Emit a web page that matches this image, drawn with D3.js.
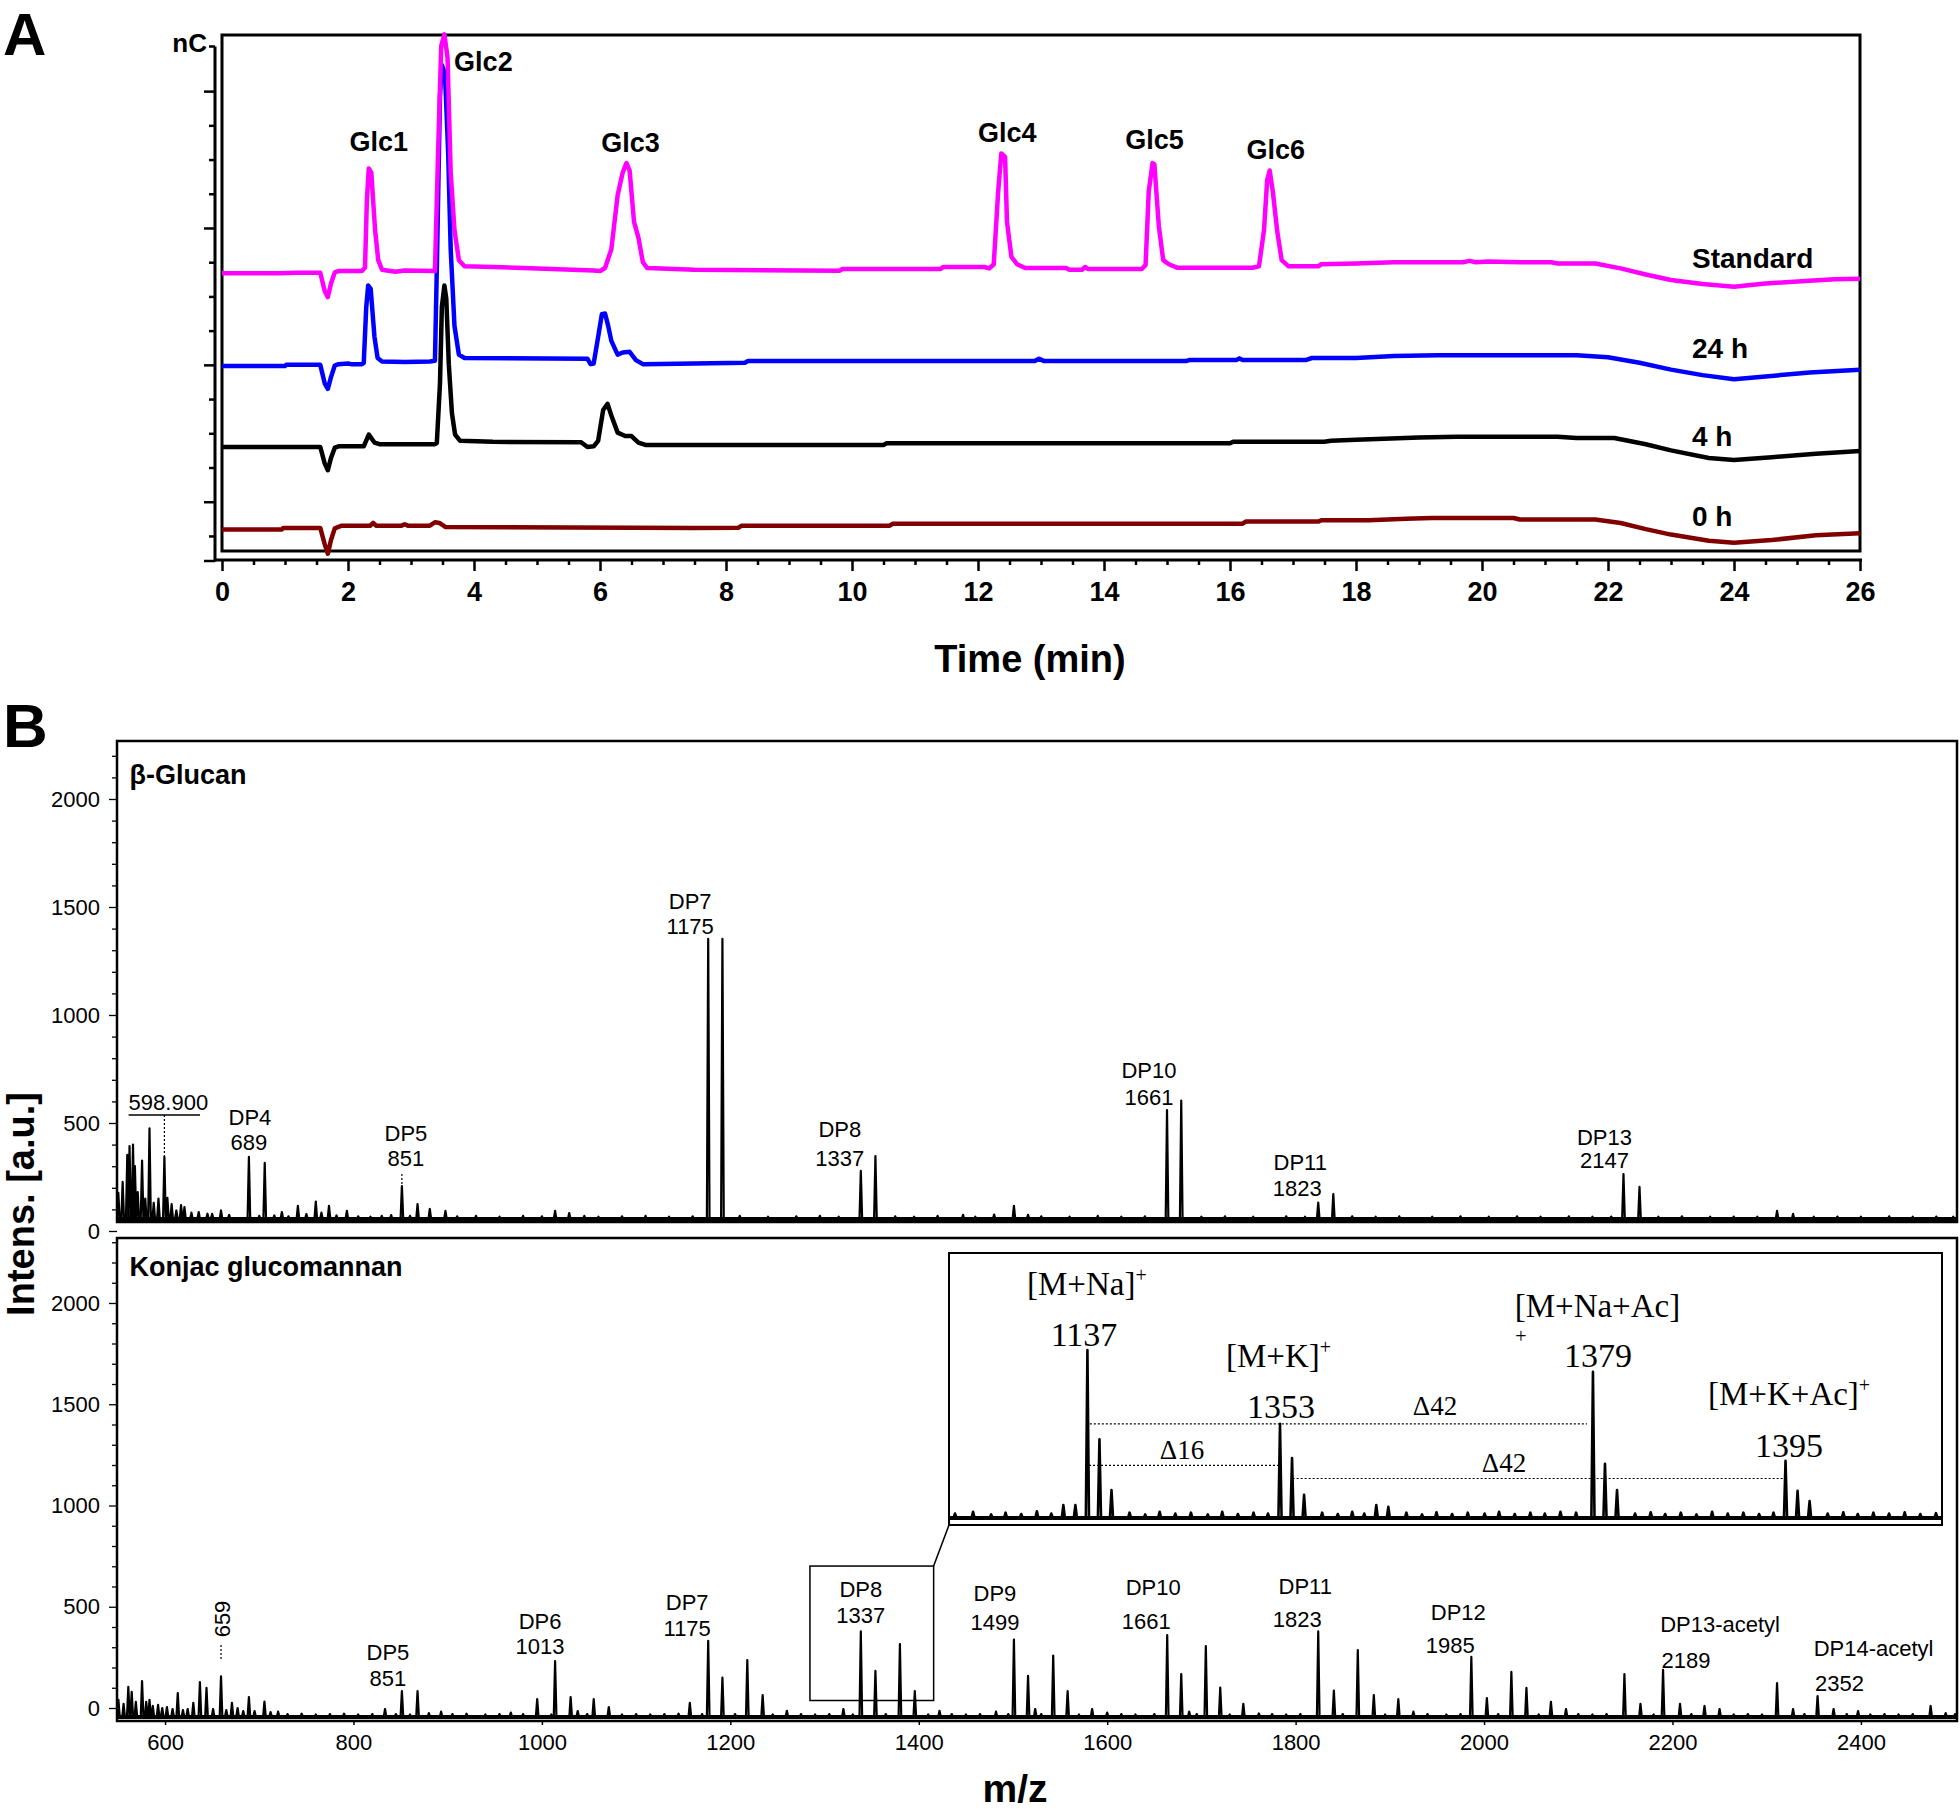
<!DOCTYPE html>
<html><head><meta charset="utf-8">
<script src="https://cdn.jsdelivr.net/npm/d3@7"></script>
<style>body{margin:0;background:#fff}svg{display:block}</style>
</head><body>
<svg id="fig" width="1960" height="1809"></svg>
<script>
// ===================== DATA : Panel A (HPAEC-PAD) =====================
const timeTicks = [0,2,4,6,8,10,12,14,16,18,20,22,24,26];
const nCTicks = [-5,0,5,10,15,20,25,30,35,40,45,50,55,60];
const seriesNames = ["Standard","24 h","4 h","0 h"];
const glcNames = ["Glc1","Glc2","Glc3","Glc4","Glc5","Glc6"];
const glcTimes = [2.33,3.53,6.42,12.37,14.77,16.63];

const standardTrace = [[0,33.4],[0.9,33.4],[1.2,33.45],[1.56,33.45],[1.63,30.8],[1.68,29.9],[1.73,31.9],[1.79,33.5],[1.85,33.7],[2.22,33.7],[2.27,34.2],[2.30,44.2],[2.33,48.7],[2.37,48.1],[2.43,39.7],[2.48,35.3],[2.54,33.9],[2.75,33.6],[2.9,33.8],[3.38,33.7],[3.43,51],[3.48,66.6],[3.53,68.3],[3.58,64.9],[3.63,48.1],[3.69,39.7],[3.76,35.3],[3.85,34.4],[4.3,34.3],[4.9,34.1],[5.9,33.8],[6.0,33.7],[6.08,34.15],[6.18,36.9],[6.28,44.8],[6.36,48.1],[6.42,49.5],[6.47,48.4],[6.54,40.9],[6.61,38.6],[6.68,35.0],[6.75,34.15],[7.5,33.9],[9.8,33.75],[9.85,34.0],[11.4,34.0],[11.45,34.3],[12.1,34.3],[12.18,34.1],[12.25,34.7],[12.32,45.3],[12.37,50.9],[12.43,50.4],[12.46,40.9],[12.53,35.8],[12.62,34.7],[12.75,34.15],[13.4,34.15],[13.45,33.9],[13.65,33.9],[13.7,34.3],[13.75,34.0],[14.6,34.0],[14.66,34.6],[14.71,45.3],[14.77,49.5],[14.80,49.3],[14.87,40.3],[14.94,35.3],[15.03,34.7],[15.16,34.2],[16.36,34.2],[16.46,34.4],[16.54,39.7],[16.59,47.0],[16.63,48.4],[16.68,45.3],[16.75,39.5],[16.82,35.3],[16.93,34.4],[17.4,34.4],[17.45,34.7],[18.0,34.8],[18.6,35.0],[19.7,35.0],[19.8,35.2],[19.9,35.0],[20.1,35.1],[20.6,35.0],[21.1,35.0],[21.2,34.8],[21.8,34.8],[22.2,34.1],[22.6,33.2],[23.0,32.4],[23.5,31.8],[24.0,31.4],[24.5,31.9],[25.2,32.3],[25.6,32.5],[26.0,32.6]];

const h24Trace = [[0,19.85],[1.0,19.85],[1.02,20.0],[1.56,20.0],[1.63,17.3],[1.68,16.5],[1.73,18.2],[1.79,19.9],[1.85,20.1],[2.0,20.2],[2.05,20.1],[2.22,20.1],[2.25,20.3],[2.29,28.5],[2.32,31.6],[2.36,31.1],[2.42,24.1],[2.47,21.0],[2.54,20.5],[2.9,20.4],[3.3,20.5],[3.38,20.6],[3.41,34.2],[3.46,59.3],[3.49,63.8],[3.54,62.5],[3.59,51],[3.63,36.9],[3.69,25.7],[3.76,21.5],[3.85,21.0],[5.8,20.9],[5.85,20.1],[5.90,20.2],[5.97,24.05],[6.03,27.4],[6.08,27.5],[6.13,25.7],[6.18,23.5],[6.28,21.5],[6.36,21.8],[6.47,21.9],[6.57,20.7],[6.68,20.1],[7.5,20.2],[8.3,20.3],[8.35,20.55],[12.9,20.55],[12.97,20.9],[13.05,20.55],[15.3,20.55],[15.35,20.7],[16.1,20.7],[16.15,20.95],[16.2,20.7],[17.2,20.7],[17.3,21.0],[18.0,21.0],[18.6,21.3],[19.3,21.4],[21.5,21.4],[22.0,21.1],[22.5,20.3],[23.0,19.3],[23.5,18.5],[24.0,17.9],[24.5,18.3],[25.2,18.9],[26.0,19.3]];

const h4Trace = [[0,8.0],[1.56,8.0],[1.63,5.6],[1.68,4.6],[1.73,6.4],[1.79,7.9],[1.85,8.1],[2.25,8.1],[2.33,9.8],[2.42,8.65],[2.5,8.4],[3.38,8.4],[3.41,8.6],[3.46,17.3],[3.49,28.5],[3.53,31.6],[3.56,29.7],[3.60,20.1],[3.65,12.9],[3.70,9.8],[3.78,8.9],[4.3,8.75],[5.7,8.7],[5.8,8.0],[5.9,8.1],[5.97,8.9],[6.05,13.4],[6.12,14.3],[6.18,12.6],[6.28,10.1],[6.40,9.6],[6.50,9.6],[6.61,8.65],[6.72,8.3],[10.5,8.3],[10.55,8.55],[16.0,8.55],[16.05,8.77],[17.5,8.77],[17.6,8.9],[18.0,9.05],[19.0,9.4],[19.6,9.5],[21.2,9.5],[21.5,9.3],[22.1,9.3],[22.6,8.4],[23.0,7.5],[23.6,6.4],[24.0,6.1],[24.6,6.5],[25.3,7.0],[26.0,7.4]];

const h0Trace = [[0,-4.05],[0.95,-4.05],[0.97,-3.85],[1.3,-3.83],[1.56,-3.83],[1.63,-6.2],[1.68,-7.6],[1.73,-5.6],[1.79,-3.9],[1.9,-3.5],[2.35,-3.5],[2.4,-3.1],[2.45,-3.5],[2.85,-3.5],[2.9,-3.3],[2.95,-3.5],[3.3,-3.5],[3.38,-3.0],[3.45,-3.1],[3.55,-3.7],[7.5,-3.83],[8.2,-3.8],[8.25,-3.5],[10.6,-3.5],[10.65,-3.2],[16.2,-3.2],[16.25,-2.9],[17.4,-2.9],[17.45,-2.7],[18.2,-2.7],[18.8,-2.5],[19.2,-2.37],[20.5,-2.37],[20.6,-2.6],[21.8,-2.6],[22.2,-3.1],[22.6,-4.0],[23.0,-4.8],[23.6,-5.7],[24.0,-6.0],[24.6,-5.6],[25.3,-4.9],[26.0,-4.6]];

// ===================== DATA : Panel B (MALDI-TOF) =====================
const mzTicks = [600,800,1000,1200,1400,1600,1800,2000,2200,2400];
const intensTicks = [0,500,1000,1500,2000];
const panelNames = ["β-Glucan","Konjac glucomannan"];

const glucanBaseline = 55;
const glucanPeaks = [[550.4,177],[555,227],[559.9,352],[562.3,393],[566,400],[568,300],[571,180],[575.6,326],[579,150],[583.5,475],[588,130],[593,150],[599.3,343],[602.5,153],[607,125],[612,95],[617,120],[620.6,111],[628,85],[635.7,88],[645,80],[650,79],[659.4,95],[668,75],[689,343],[705.8,315],[724,88],[741,116],[760,136],[774,116],[793,93],[851.4,208],[868,125],[881,102],[897.6,93],[1014,93],[1029,83],[1176.5,1352],[1191.6,1352],[1338.5,278],[1354,347],[1447,75],[1480,76],[1501,116],[1516,75],[1663.5,560],[1678.6,604],[1824,131],[1840,171],[2148,264],[2165,204],[2311,93],[2328,79]];
const glucanNoise = [[700,70],[716,72],[731,68],[750,78],[766,85],[782,72],[805,68],[818,66],[830,70],[840,74],[860,70],[910,68],[930,70],[955,66],[980,70],[1000,68],[1045,70],[1060,66],[1085,68],[1110,70],[1135,66],[1160,68],[1210,70],[1240,66],[1270,68],[1295,70],[1315,66],[1375,68],[1395,66],[1420,70],[1460,66],[1530,68],[1560,66],[1590,70],[1615,66],[1640,68],[1700,66],[1725,68],[1755,66],[1790,68],[1810,66],[1860,68],[1885,66],[1910,68],[1945,66],[1975,68],[2005,66],[2035,68],[2060,66],[2090,68],[2115,66],[2135,67],[2185,66],[2210,68],[2240,66],[2265,67],[2290,66],[2350,66],[2375,67],[2400,66],[2430,68],[2455,66],[2480,67],[2498,66]];

const konjacBaseline = -44;
const konjacPeaks = [[550.5,40],[556,20],[561,104],[564.6,80],[569,30],[575.6,133],[580,30],[583.5,40],[587,10],[592.6,15],[597,0],[602,5],[608,-5],[613.5,74],[619,-10],[624,-5],[630,25],[637,128],[644,99],[651,-5],[659.4,156],[665,-10],[671,25],[677,0],[683,-15],[689,54],[695,-15],[705.5,32],[712,-20],[720,-18],[833.5,-5],[851.4,84],[868,84],[880,-25],[893,-18],[967,-23],[995,44],[1014,232],[1030.5,54],[1038,-15],[1055,44],[1071,5],[1157,25],[1176.5,332],[1191.6,150],[1218,237],[1234.3,64],[1260,-14],[1320,-5],[1338.5,378],[1354,183],[1380,316],[1395.8,84],[1422,-14],[1482,-18],[1501,338],[1516,159],[1523.6,-5],[1542.7,259],[1558,84],[1584,-5],[1600,-23],[1663.7,360],[1678.6,168],[1687,-18],[1704.7,306],[1720,101],[1744.5,20],[1761,-27],[1824,378],[1840.6,86],[1866,286],[1883,64],[1909,44],[1925,-18],[1986.5,252],[2003,49],[2029,178],[2045,99],[2071,30],[2087,-5],[2149,168],[2166,20],[2190,188],[2208,20],[2234,10],[2250,-5],[2311,123],[2328,-5],[2354,59],[2371,-5],[2397,-15],[2474,10],[2490,-25]];
const konjacNoise = [[730,-30],[745,-28],[760,-32],[775,-30],[790,-28],[805,-32],[820,-30],[845,-30],[860,-32],[905,-30],[920,-28],[940,-32],[955,-30],[980,-30],[1010,-32],[1048,-30],[1085,-32],[1100,-30],[1115,-32],[1130,-30],[1145,-28],[1170,-30],[1205,-30],[1245,-32],[1275,-30],[1290,-32],[1305,-30],[1330,-32],[1365,-30],[1410,-32],[1435,-30],[1450,-32],[1465,-30],[1495,-30],[1530,-30],[1570,-32],[1615,-30],[1630,-32],[1650,-30],[1695,-30],[1730,-32],[1775,-30],[1790,-32],[1805,-30],[1850,-30],[1895,-32],[1940,-30],[1960,-32],[1975,-30],[2015,-30],[2058,-32],[2100,-30],[2115,-32],[2130,-30],[2180,-32],[2220,-30],[2265,-32],[2280,-30],[2295,-32],[2340,-30],[2385,-30],[2410,-32],[2425,-30],[2440,-32],[2455,-30],[2500,-30]];

// zoomed inset of the DP8 cluster
const insetDomain = [1325.5,1408];
const insetPeaks = [[1335,29],[1336,29],[1337,378],[1338,177],[1339,63],[1353,212],[1354,135],[1355,52],[1361,29],[1362,25],[1379,329],[1380,122],[1381,63],[1395,129],[1396,61],[1397,38]];
const insetNoise = [[1326,10],[1327.5,14],[1329,8],[1330.2,12],[1331.5,9],[1332.8,15],[1334,10],[1340.5,12],[1341.8,8],[1343,14],[1344.3,10],[1345.6,12],[1347,8],[1348.2,14],[1349.5,9],[1350.8,12],[1352,10],[1356.5,12],[1357.8,9],[1359,14],[1360,10],[1363.5,12],[1364.8,8],[1366,13],[1367.3,9],[1368.6,12],[1370,10],[1371.2,14],[1372.5,9],[1373.8,12],[1375,10],[1376.3,14],[1377.6,12],[1382.5,10],[1383.8,13],[1385,9],[1386.3,12],[1387.6,8],[1388.9,14],[1390.2,10],[1391.5,12],[1392.8,9],[1394,12],[1398.5,10],[1399.8,13],[1401,9],[1402.3,12],[1403.6,10],[1404.9,13],[1406.2,9],[1407.5,11]];
const insetDeltas = [["Δ42",1337.2,1378.5,212],["Δ16",1336.8,1352.9,118.5],["Δ42",1354.05,1394.8,89]];
const dp8Window = [1284.5,1415.8,37,701];   // m/z from, m/z to, intensity from, to

const glucanLabels = [["DP4","689",689],["DP5","851",851.4],["DP7","1175",1176.5],["DP8","1337",1338.5],["DP10","1661",1663.5],["DP11","1823",1824],["DP13","2147",2148]];
const konjacLabels = [["DP5","851",851.4],["DP6","1013",1014],["DP7","1175",1176.5],["DP8","1337",1338.5],["DP9","1499",1501],["DP10","1661",1663.7],["DP11","1823",1824],["DP12","1985",1986.5],["DP13-acetyl","2189",2190],["DP14-acetyl","2352",2354]];

// ===================== LAYOUT =====================
const F = "'Liberation Sans', Arial, Helvetica, sans-serif";
const FS = "'Liberation Serif', 'Times New Roman', serif";
const seriesColors = ["#ff00ff","#0000ff","#000000","#800000"];
const seriesLabelY = [268,358,446,526];
const glcLabelLayout = [[10,151],[39,71],[4,152],[6,141.5],[2,148.5],[6,159]];
// [dx line1, baseline line1, dx line2, baseline line2]
const glucanLabelLayout = [[1,1125,0,1150],[4,1141,4,1166],[-18,909,-18,934],[-21,1137,-21,1166],[-18,1078,-18,1105],[-18,1169.5,-21,1196],[-19,1144.5,-19,1168]];
const konjacLabelLayout = [[-14,1660,-14,1686],[-15,1628.5,-15,1654],[-21,1610,-21,1636],[0,1597,0,1623],[-19,1601,-19,1630],[-14,1595,-21,1628.5],[-13,1593.5,-21,1627],[-13,1620,-21,1652.5],[57,1632,23,1668],[56,1656,22,1691]];

const svg = d3.select('#fig');
svg.append('rect').attr('width',1960).attr('height',1809).attr('fill','#fff');

// ---------------- Panel A ----------------
const xA = d3.scaleLinear().domain([0,26]).range([222,1860]);
const yA = d3.scaleLinear().domain([-7.2,68.2]).range([551,35]);
const gA = svg.append('g');

svg.append('text').attr('x',3).attr('y',55).text('A')
  .attr('font-family',F).attr('font-weight','bold').attr('font-size',60);

gA.append('rect').attr('x',xA(0)).attr('y',yA(68.2)).attr('width',xA(26)-xA(0)).attr('height',yA(-7.2)-yA(68.2))
  .attr('fill','none').attr('stroke','#000').attr('stroke-width',3);

// x axis (offset below the frame)
const gxA = gA.append('g').attr('transform','translate(0,560)')
  .call(d3.axisBottom(xA).tickValues(timeTicks).tickSize(11).tickSizeOuter(0).tickPadding(11).tickFormat(d3.format('d')));
gxA.select('.domain').remove();
gxA.selectAll('.tick line').attr('stroke-width',2.5);
gxA.selectAll('.tick text').attr('font-family',F).attr('font-size',27).attr('font-weight','bold');
const minorTimes = d3.range(0,26.01,0.5).filter(t => t % 2 !== 0);
const gxAm = gA.append('g').attr('transform','translate(0,560)')
  .call(d3.axisBottom(xA).tickValues(minorTimes).tickSize(5).tickFormat(''));
gxAm.select('.domain').remove();
gxAm.selectAll('.tick line').attr('stroke-width',2.5);
gA.append('line').attr('x1',215).attr('x2',1862).attr('y1',560).attr('y2',560).attr('stroke','#000').attr('stroke-width',3);

// y axis (offset left of the frame)
const gyA = gA.append('g').attr('transform','translate(215,0)')
  .call(d3.axisLeft(yA).tickValues(nCTicks).tickSize(6).tickFormat(''));
gyA.select('.domain').remove();
gyA.selectAll('.tick line').attr('x2', d => (d % 20 === 0) ? -11 : -6).attr('stroke-width',2.5);
gyA.append('line').attr('x1',0).attr('x2',0).attr('y1',46.5).attr('y2',561.5).attr('stroke','#000').attr('stroke-width',3);
gyA.append('line').attr('x1',-6).attr('x2',0).attr('y1',46.5).attr('y2',46.5).attr('stroke','#000').attr('stroke-width',2.5);
gyA.append('line').attr('x1',-11).attr('x2',0).attr('y1',561).attr('y2',561).attr('stroke','#000').attr('stroke-width',2.5);
gA.append('text').attr('x',207).attr('y',52).attr('text-anchor','end').text('nC')
  .attr('font-family',F).attr('font-weight','bold').attr('font-size',26);

// traces
const lineA = d3.line().x(d => xA(d[0])).y(d => yA(d[1]));
const traces = [standardTrace,h24Trace,h4Trace,h0Trace];
[3,1,2,0].forEach(i => {
  gA.append('path').attr('d',lineA(traces[i])).attr('fill','none')
    .attr('stroke',seriesColors[i]).attr('stroke-width',4.5).attr('stroke-linejoin','round');
});
seriesNames.forEach((n,i) => {
  gA.append('text').attr('x',1692).attr('y',seriesLabelY[i]).text(n)
    .attr('font-family',F).attr('font-weight','bold').attr('font-size',28);
});
glcNames.forEach((n,i) => {
  gA.append('text').attr('x',xA(glcTimes[i]) + glcLabelLayout[i][0]).attr('y',glcLabelLayout[i][1])
    .attr('text-anchor','middle').text(n)
    .attr('font-family',F).attr('font-weight','bold').attr('font-size',27);
});
gA.append('text').attr('x',1030).attr('y',672).attr('text-anchor','middle').text('Time (min)')
  .attr('font-family',F).attr('font-weight','bold').attr('font-size',38);

// ---------------- Panel B ----------------
svg.append('text').attr('x',3).attr('y',747).text('B')
  .attr('font-family',F).attr('font-weight','bold').attr('font-size',62);

const xB = d3.scaleLinear().domain([549,2502]).range([117,1957]);
const yU = d3.scaleLinear().domain([0,2000]).range([1231,799]);
const yL = d3.scaleLinear().domain([0,2000]).range([1708,1303]);
const gB = svg.append('g');

function spectrum(peaks, noise, base, hw, dom) {
  const all = peaks.concat(noise).sort((a,b) => a[0]-b[0]);
  const pts = [[dom[0],base]];
  all.forEach(([m,v]) => { pts.push([m-hw,base],[m,v],[m+hw,base]); });
  pts.push([dom[1],base]);
  return pts;
}

function yAxisB(scale, maxTick) {
  const vals = d3.range(0, maxTick+1, 100);
  const g = gB.append('g').attr('transform','translate(117,0)')
    .call(d3.axisLeft(scale).tickValues(vals).tickSize(6).tickPadding(11)
      .tickFormat(d => intensTicks.includes(d) ? d : ''));
  g.select('.domain').remove();
  g.selectAll('.tick line').attr('x2', d => intensTicks.includes(d) ? -8 : -5).attr('stroke-width',1.3);
  g.selectAll('.tick text').attr('font-family',F).attr('font-size',22);
}

function drawSpectrum(line, peaks, noise, base, hw, dom, width, baseWidth) {
  gB.append('path').attr('d',line([[dom[0],base],[dom[1],base]]))
    .attr('fill','none').attr('stroke','#000').attr('stroke-width',baseWidth);
  gB.append('path').attr('d',line(spectrum(peaks,noise,base,hw,dom)))
    .attr('fill','none').attr('stroke','#000').attr('stroke-width',width).attr('stroke-linejoin','round');
}

// upper frame
gB.append('rect').attr('x',117).attr('y',741).attr('width',1840).attr('height',481)
  .attr('fill','none').attr('stroke','#000').attr('stroke-width',2.5);
yAxisB(yU, 2200);
const lineU = d3.line().x(d => xB(d[0])).y(d => yU(d[1]));
drawSpectrum(lineU, glucanPeaks, glucanNoise, glucanBaseline, 1.4, xB.domain(), 2.2, 4);
gB.append('text').attr('x',129.5).attr('y',784).text(panelNames[0])
  .attr('font-family',F).attr('font-weight','bold').attr('font-size',27);

// lower frame
gB.append('rect').attr('x',117).attr('y',1238).attr('width',1840).attr('height',483)
  .attr('fill','none').attr('stroke','#000').attr('stroke-width',2.5);
yAxisB(yL, 2300);
const gxB = gB.append('g').attr('transform','translate(0,1721)')
  .call(d3.axisBottom(xB).tickValues(mzTicks).tickSize(4).tickSizeOuter(0).tickPadding(9).tickFormat(d3.format('d')));
gxB.select('.domain').remove();
gxB.selectAll('.tick line').attr('stroke-width',1.5);
gxB.selectAll('.tick text').attr('font-family',F).attr('font-size',22);
const lineL = d3.line().x(d => xB(d[0])).y(d => yL(d[1]));
drawSpectrum(lineL, konjacPeaks, konjacNoise, konjacBaseline, 1.4, xB.domain(), 2.2, 4);
gB.append('text').attr('x',129.5).attr('y',1276).text(panelNames[1])
  .attr('font-family',F).attr('font-weight','bold').attr('font-size',27);

// peak labels
function twoLine(labels, layout) {
  labels.forEach((l,i) => {
    const x = xB(l[2]); const lay = layout[i];
    gB.append('text').attr('x',x+lay[0]).attr('y',lay[1]).attr('text-anchor','middle').text(l[0])
      .attr('font-family',F).attr('font-size',22);
    gB.append('text').attr('x',x+lay[2]).attr('y',lay[3]).attr('text-anchor','middle').text(l[1])
      .attr('font-family',F).attr('font-size',22);
  });
}
twoLine(glucanLabels, glucanLabelLayout);
twoLine(konjacLabels, konjacLabelLayout);

// 598.900 annotation (upper)
gB.append('text').attr('x',128.6).attr('y',1110).text('598.900').attr('font-family',F).attr('font-size',22);
gB.append('line').attr('x1',128.6).attr('x2',200).attr('y1',1115).attr('y2',1115).attr('stroke','#000').attr('stroke-width',1.3);
gB.append('line').attr('x1',xB(599.3)).attr('x2',xB(599.3)).attr('y1',1115).attr('y2',yU(343))
  .attr('stroke','#000').attr('stroke-width',1.2).attr('stroke-dasharray','2,2');
gB.append('line').attr('x1',xB(851.4)).attr('x2',xB(851.4)).attr('y1',1174).attr('y2',yU(208))
  .attr('stroke','#000').attr('stroke-width',1.2).attr('stroke-dasharray','2,2');

// 659 annotation (lower, rotated)
gB.append('text').attr('transform',`translate(${xB(659.4)+9},1619) rotate(-90)`).attr('text-anchor','middle').text('659')
  .attr('font-family',F).attr('font-size',22);
gB.append('line').attr('x1',xB(659.4)).attr('x2',xB(659.4)).attr('y1',1645).attr('y2',1660)
  .attr('stroke','#000').attr('stroke-width',1.2).attr('stroke-dasharray','2,2');

// DP8 window + connector
gB.append('rect').attr('x',xB(dp8Window[0])).attr('y',yL(dp8Window[3]))
  .attr('width',xB(dp8Window[1])-xB(dp8Window[0])).attr('height',yL(dp8Window[2])-yL(dp8Window[3]))
  .attr('fill','none').attr('stroke','#000').attr('stroke-width',1.5);

// inset
const xI = d3.scaleLinear().domain(insetDomain).range([949,1942]);
const yI = d3.scaleLinear().domain([0,400]).range([1518,1340.4]);
gB.append('line').attr('x1',xB(dp8Window[1])).attr('y1',yL(dp8Window[3])).attr('x2',949).attr('y2',1525)
  .attr('stroke','#000').attr('stroke-width',1.5);
gB.append('rect').attr('x',949).attr('y',1253).attr('width',993).attr('height',272)
  .attr('fill','#fff').attr('stroke','#000').attr('stroke-width',2);
const lineI = d3.line().x(d => xI(d[0])).y(d => yI(d[1]));
drawSpectrum(lineI, insetPeaks, insetNoise, 0, 0.13, insetDomain, 2.6, 4);
insetDeltas.forEach(d => {
  gB.append('line').attr('x1',xI(d[1])).attr('x2',xI(d[2])).attr('y1',yI(d[3])).attr('y2',yI(d[3]))
    .attr('stroke','#000').attr('stroke-width',1.2).attr('stroke-dasharray','2,2');
});
const insetText = [
  ["[M+Na]","+",1027,1295,"start",33],["1137","",1084,1346,"middle",34],
  ["[M+K]","+",1226,1367,"start",33],["1353","",1281,1418,"middle",34],
  ["Δ16","",1182,1459,"middle",27],["Δ42","",1435,1414.5,"middle",27],["Δ42","",1504,1472,"middle",27],
  ["[M+Na+Ac]","",1514.7,1317,"start",33],["1379","",1598,1366.5,"middle",34],
  ["[M+K+Ac]","+",1708,1405,"start",33],["1395","",1789,1457,"middle",34]
];
insetText.forEach(t => {
  const tx = gB.append('text').attr('x',t[2]).attr('y',t[3]).attr('text-anchor',t[4])
    .attr('font-family',FS).attr('font-size',t[5]);
  tx.append('tspan').text(t[0]);
  if (t[1]) tx.append('tspan').attr('font-size',20).attr('dy',-13).text(t[1]);
});
gB.append('text').attr('x',1521).attr('y',1343).attr('text-anchor','middle').text('+')
  .attr('font-family',FS).attr('font-size',20);

// axis titles
svg.append('text').attr('transform','translate(34,1204) rotate(-90)').attr('text-anchor','middle').text('Intens. [a.u.]')
  .attr('font-family',F).attr('font-weight','bold').attr('font-size',38);
svg.append('text').attr('x',1015).attr('y',1802).attr('text-anchor','middle').text('m/z')
  .attr('font-family',F).attr('font-weight','bold').attr('font-size',39);
</script>
</body></html>
